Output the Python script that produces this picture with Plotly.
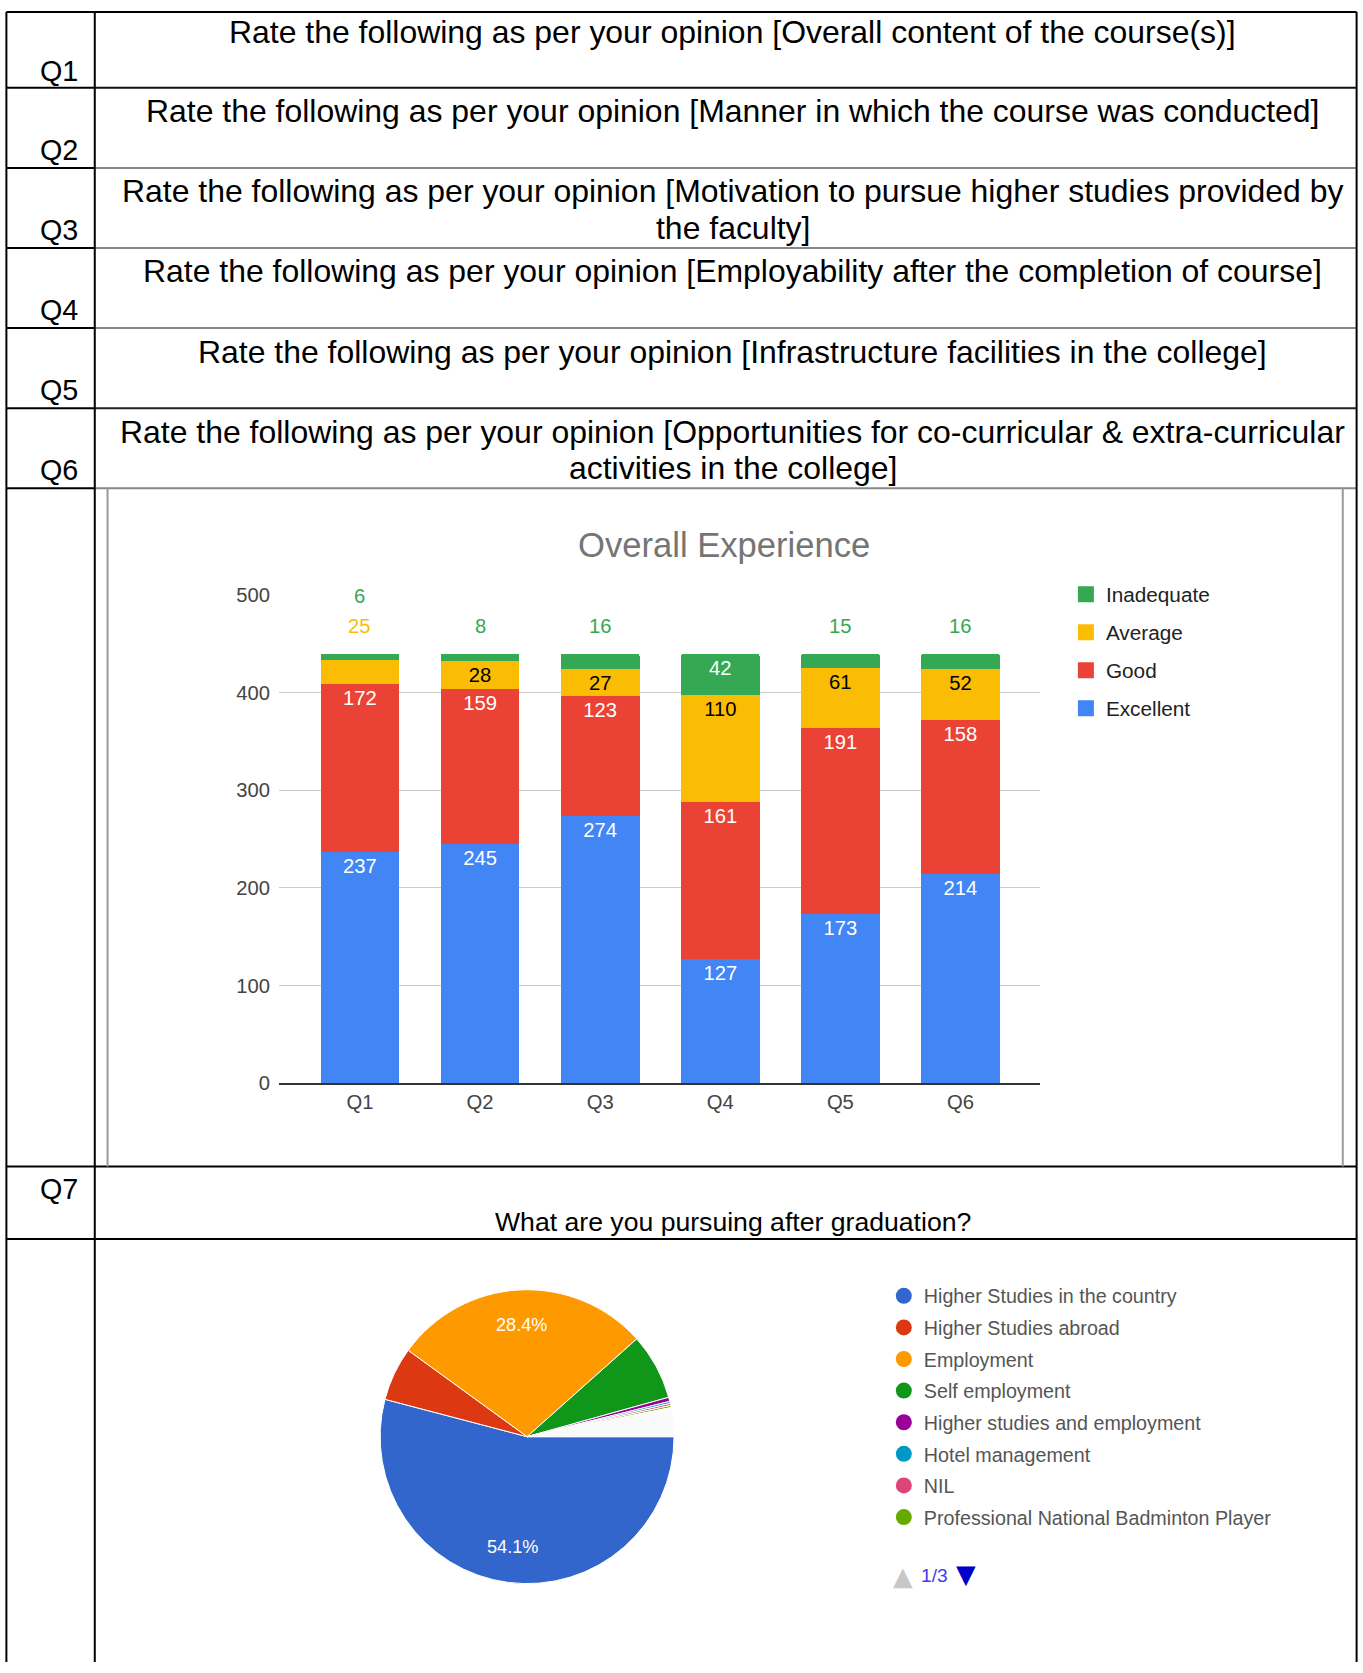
import math
import plotly.graph_objects as go

# ---------------- data ----------------
categories = ["Q1", "Q2", "Q3", "Q4", "Q5", "Q6"]
excellent = [237, 245, 274, 127, 173, 214]
good = [172, 159, 123, 161, 191, 158]
average = [25, 28, 27, 110, 61, 52]
inadequate = [6, 8, 16, 42, 15, 16]
series_names = ["Excellent", "Good", "Average", "Inadequate"]
y_ticks = [0, 100, 200, 300, 400, 500]

question_ids = ["Q1", "Q2", "Q3", "Q4", "Q5", "Q6", "Q7"]
question_texts = [
    "Rate the following as per your opinion [Overall content of the course(s)]",
    "Rate the following as per your opinion [Manner in which the course was conducted]",
    "Rate the following as per your opinion [Motivation to pursue higher studies provided by<br>the faculty]",
    "Rate the following as per your opinion [Employability after the completion of course]",
    "Rate the following as per your opinion [Infrastructure facilities in the college]",
    "Rate the following as per your opinion [Opportunities for co-curricular & extra-curricular<br>activities in the college]",
]
bar_title = "Overall Experience"
q7_text = "What are you pursuing after graduation?"

pie_labels = [
    "Higher Studies in the country",
    "Higher Studies abroad",
    "Employment",
    "Self employment",
    "Higher studies and employment",
    "Hotel management",
    "NIL",
    "Professional National Badminton Player",
    "Other responses (legend pages 2-3)",
]
pie_counts = [238, 26, 125, 32, 2, 1, 1, 1, 14]
pie_legend_count = 8
pager_text = "1/3"

# ---------------- styles ----------------
series_colors = ["#4285f4", "#ea4335", "#fbbc04", "#34a853"]
inside_text_colors = ["#ffffff", "#ffffff", "#000000", "#ffffff"]
pie_colors = ["#3366cc", "#dc3912", "#ff9900", "#109618", "#990099",
              "#0099c6", "#dd4477", "#66aa00", "#fafafa"]
MIN_INSIDE = 26
PIE_ROTATION = 90

W, H = 1363, 1673
DW, DH = 1280.0, 1571.0
S = W / DW
# vertical calibration of the captured page (offset / scale observed in render)
V_OFF, V_SCALE = 10.1, 0.984


def X(x):
    return x / DW


def Y(y):
    return min(1 - ((y - V_OFF) / V_SCALE) / DH, 1 - 1.0 / DH)


def fs(n):
    return n * S


TXT = "Liberation Sans, Arial, sans-serif"
GFONT = "Liberation Sans, Arial, sans-serif"

fig = go.Figure()

# ---------------- stacked bars ----------------
series_values = [excellent, good, average, inadequate]
for name, vals, col, tcol in zip(series_names, series_values, series_colors, inside_text_colors):
    fig.add_trace(go.Bar(
        x=categories, y=vals, name=name,
        marker=dict(color=col, line=dict(width=0)),
        text=[str(v) if v >= MIN_INSIDE else "" for v in vals],
        textposition="inside", insidetextanchor="end", textangle=0,
        textfont=dict(family=GFONT, size=fs(19), color=tcol),
        constraintext="none", showlegend=False,
        hovertemplate="%{x} " + name + ": %{y}<extra></extra>",
    ))

# outside labels for small top segments
annotations = []
for i, cat in enumerate(categories):
    total = sum(v[i] for v in series_values)
    j = 0
    for k in (2, 3):
        v = series_values[k][i]
        if v < MIN_INSIDE:
            annotations.append(dict(
                x=cat, y=total, xref="x", yref="y", text=str(v), showarrow=False,
                xanchor="center", yanchor="middle", yshift=fs(26 + 28 * j),
                font=dict(family=GFONT, size=fs(19), color=series_colors[k]),
            ))
            j += 1

# bar legend (square markers)
for k in (3, 2, 1, 0):
    fig.add_trace(go.Scatter(
        x=[None], y=[None], mode="markers", name=series_names[k],
        marker=dict(symbol="square", size=16, color=series_colors[k]),
        legend="legend", legendgroup="b" + series_names[k], showlegend=True,
        hoverinfo="skip",
    ))

# ---------------- pie ----------------
pie_x0, pie_x1, pie_y0, pie_y1 = 357, 633, 1207, 1483
fig.add_trace(go.Pie(
    labels=pie_labels, values=pie_counts, sort=False, direction="clockwise",
    rotation=PIE_ROTATION,
    marker=dict(colors=pie_colors, line=dict(color="#ffffff", width=1)),
    textinfo="none", showlegend=False,
    domain=dict(x=[X(pie_x0), X(pie_x1)], y=[Y(pie_y1), Y(pie_y0)]),
))
# percentage labels for big slices, placed along each slice bisector
total_p = sum(pie_counts)
pcx = X((pie_x0 + pie_x1) / 2)
pcy = Y((pie_y0 + pie_y1) / 2)
prad = (pie_x1 - pie_x0) / 2 * S
cum = 0
for c in pie_counts:
    share = c / total_p
    if share >= 0.1:
        ang = math.radians(PIE_ROTATION + (cum + c / 2) / total_p * 360)
        annotations.append(dict(
            x=pcx + 0.77 * prad * math.sin(ang) / W,
            y=pcy + 0.77 * prad * math.cos(ang) / H,
            xref="paper", yref="paper", text=f"{share * 100:.1f}%", showarrow=False,
            xanchor="center", yanchor="middle",
            font=dict(family=TXT, size=fs(17), color="#ffffff"),
        ))
    cum += c

for name, col in zip(pie_labels[:pie_legend_count], pie_colors[:pie_legend_count]):
    fig.add_trace(go.Scatter(
        x=[None], y=[None], mode="markers", name=name,
        marker=dict(symbol="circle", size=16, color=col),
        legend="legend2", legendgroup="p" + name, showlegend=True,
        hoverinfo="skip",
    ))

# ---------------- table lines ----------------
shapes = []
rows = [8, 82, 157, 232, 307, 382, 457, 1092, 1160]
row_cols = ["#000", "#111", "#888", "#888", "#888", "#222", "#888", "#000", "#000"]
for yv, c in zip(rows, row_cols):
    shapes.append(dict(type="line", xref="paper", yref="paper", x0=X(6), x1=X(89),
                       y0=Y(yv), y1=Y(yv), line=dict(color="#000", width=2)))
    shapes.append(dict(type="line", xref="paper", yref="paper", x0=X(89), x1=X(1274),
                       y0=Y(yv), y1=Y(yv), line=dict(color=c, width=2)))
for xv in (6, 89, 1274):
    shapes.append(dict(type="line", xref="paper", yref="paper", x0=X(xv), x1=X(xv),
                       y0=Y(8), y1=0, line=dict(color="#000", width=2)))
for xv in (101, 1261):
    shapes.append(dict(type="line", xref="paper", yref="paper", x0=X(xv), x1=X(xv),
                       y0=Y(457), y1=Y(1092), line=dict(color="#999", width=2)))

# question ids
q_centers = [66, 140, 215, 290, 365, 440, 1113]
for qid, yc in zip(question_ids, q_centers):
    annotations.append(dict(x=X(55), y=Y(yc), xref="paper", yref="paper", text=qid,
                            showarrow=False, xanchor="center", yanchor="middle",
                            font=dict(family=TXT, size=fs(27), color="#000")))
# question texts (one annotation per line)
for txt, top in zip(question_texts, rows[:6]):
    for li, line in enumerate(txt.split("<br>")):
        annotations.append(dict(x=X(688), y=Y(top + 22 + 34 * li), xref="paper", yref="paper",
                                text=line, showarrow=False, xanchor="center", yanchor="middle",
                                font=dict(family=TXT, size=fs(30), color="#000")))
annotations.append(dict(x=X(688), y=Y(1144), xref="paper", yref="paper", text=q7_text,
                        showarrow=False, xanchor="center", yanchor="middle",
                        font=dict(family=TXT, size=fs(25), color="#000")))
annotations.append(dict(x=X(680), y=Y(510), xref="paper", yref="paper", text=bar_title,
                        showarrow=False, xanchor="center", yanchor="middle",
                        font=dict(family=GFONT, size=fs(32.5), color="#757575")))
# pager
annotations.append(dict(x=X(848), y=Y(1475), xref="paper", yref="paper", text="▲",
                        showarrow=False, xanchor="center", yanchor="middle",
                        font=dict(family="DejaVu Sans", size=fs(24), color="#c8c8c8")))
annotations.append(dict(x=X(878), y=Y(1475), xref="paper", yref="paper", text=pager_text,
                        showarrow=False, xanchor="center", yanchor="middle",
                        font=dict(family=TXT, size=fs(18), color="#3d3dee")))
annotations.append(dict(x=X(907), y=Y(1474), xref="paper", yref="paper", text="▼",
                        showarrow=False, xanchor="center", yanchor="middle",
                        font=dict(family="DejaVu Sans", size=fs(24), color="#0000cc")))

fig.update_layout(
    width=W, height=H, margin=dict(l=0, r=0, t=0, b=0),
    paper_bgcolor="#ffffff", plot_bgcolor="#ffffff",
    barmode="stack", bargap=0.344, barcornerradius=3,
    shapes=shapes, annotations=annotations,
    xaxis=dict(domain=[X(262), X(977)], range=[-0.674, 5.665], showgrid=False,
               showline=True, linecolor="#333333", linewidth=2, ticks="",
               tickfont=dict(family=GFONT, size=fs(19), color="#444444"),
               fixedrange=True),
    yaxis=dict(domain=[Y(1014), Y(557)], range=[0, 500], tickvals=y_ticks,
               showgrid=True, gridcolor="#cccccc", gridwidth=1, zeroline=False,
               ticks="", ticklabelstandoff=8,
               tickfont=dict(family=GFONT, size=fs(19), color="#444444"),
               fixedrange=True),
    legend=dict(x=X(1001), y=Y(537.5), xanchor="left", yanchor="top",
                traceorder="grouped", tracegroupgap=8,
                font=dict(family=GFONT, size=fs(19.5), color="#222222"),
                bgcolor="rgba(0,0,0,0)"),
    legend2=dict(x=X(830), y=Y(1195), xanchor="left", yanchor="top",
                 traceorder="grouped", tracegroupgap=3,
                 font=dict(family=TXT, size=fs(18.5), color="#555555"),
                 bgcolor="rgba(0,0,0,0)"),
    showlegend=True,
)

fig.write_html(
    "out.html",
    config={"displayModeBar": False},
    post_script="document.body.style.margin='0';document.body.style.overflow='hidden';",
)
